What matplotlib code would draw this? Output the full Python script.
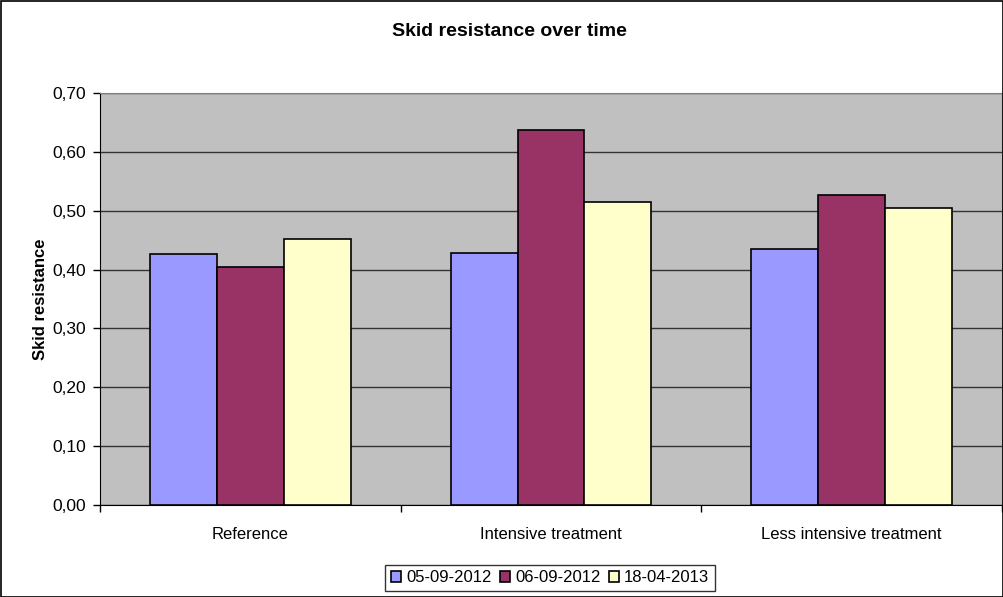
import matplotlib
matplotlib.use("Agg")
import matplotlib.pyplot as plt
import numpy as np
from matplotlib.patches import Rectangle

categories = ["Reference", "Intensive treatment", "Less intensive treatment"]
series_names = ["05-09-2012", "06-09-2012", "18-04-2013"]
s1 = [0.427, 0.429, 0.435]
s2 = [0.405, 0.637, 0.526]
s3 = [0.452, 0.515, 0.505]
colors = ["#9999FF", "#993366", "#FFFFCC"]
yticks = [0.0, 0.1, 0.2, 0.3, 0.4, 0.5, 0.6, 0.7]

plt.rcParams['font.family'] = ['Liberation Sans', 'DejaVu Sans']

W, H = 1004, 597
fig = plt.figure(figsize=(W / 100, H / 100), dpi=100)
fig.patches.append(Rectangle((0.5 / W, 0.5 / H), 1 - 1.5 / W, 1 - 1.5 / H,
                             transform=fig.transFigure, fill=False,
                             edgecolor='black', linewidth=1.2))

left, right, top, bottom = 100, 1002, 93, 505
ax = fig.add_axes([left / W, (H - bottom) / H, (right - left) / W, (bottom - top) / H])
ax.set_facecolor('#C0C0C0')

x = np.arange(len(categories))
bw = 1 / 4.5
for i, (vals, name, c) in enumerate(zip([s1, s2, s3], series_names, colors)):
    ax.bar(x + (i - 1) * bw, vals, width=bw, color=c, edgecolor='black',
           linewidth=1.2, label=name, zorder=3)

ax.set_xlim(-0.5, len(categories) - 0.5)
ax.set_ylim(0, 0.7)
ax.set_yticks(yticks)
ax.set_yticklabels([f"{v:.2f}".replace('.', ',') for v in yticks], fontsize=12.5)
ax.yaxis.grid(True, color='#333333', linewidth=1.0, zorder=1)
ax.set_axisbelow(True)
ax.tick_params(axis='y', direction='out', length=5, width=1, pad=5)

ax.set_xticks(x)
ax.set_xticklabels(categories, fontsize=12)
ax.tick_params(axis='x', length=0, pad=16)
ax.set_xticks(np.arange(-0.5, len(categories)), minor=True)
ax.tick_params(axis='x', which='minor', direction='out', length=5, width=1)

for s in ['top', 'right']:
    ax.spines[s].set_color('#808080')
for s in ['left', 'bottom']:
    ax.spines[s].set_color('black')

ax.set_ylabel("Skid resistance", fontsize=12, fontweight='bold', labelpad=3)
fig.text(509 / W, 1 - 31 / H, "Skid resistance over time", ha='center',
         va='center', fontsize=14, fontweight='bold')

leg = fig.legend(loc='center', bbox_to_anchor=(550 / W, 1 - 578 / H), ncol=3,
                 fontsize=12, frameon=True, fancybox=False, edgecolor='black',
                 handlelength=0.6, handleheight=0.6, handletextpad=0.3,
                 columnspacing=0.5, borderpad=0.35)
leg.get_frame().set_linewidth(1.0)

fig.savefig("out.png", dpi=100)
